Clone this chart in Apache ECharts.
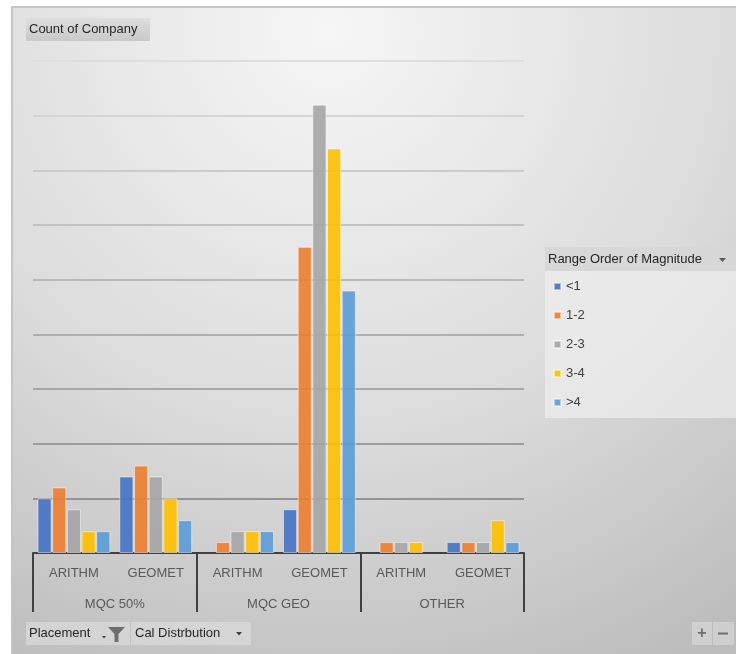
<!DOCTYPE html>
<html>
<head>
<meta charset="utf-8">
<script src="https://cdn.jsdelivr.net/npm/echarts@6/dist/echarts.min.js"></script>
<style>
html,body{margin:0;padding:0;background:#fff;}
#c{width:736px;height:654px;}
</style>
</head>
<body>
<div id="c"></div>
<script>
const subCategories = ['ARITHM','GEOMET','ARITHM','GEOMET','ARITHM','GEOMET'];
const groupCategories = ['MQC 50%','MQC GEO','OTHER'];
const seriesNames = ['<1','1-2','2-3','3-4','>4'];
const valsLt1 = [5,7,0,4,0,1];
const vals1to2 = [6,8,1,28,1,1];
const vals2to3 = [4,7,2,41,1,1];
const vals3to4 = [2,5,2,37,1,3];
const valsGt4 = [2,3,2,24,0,1];
const colors = ['#4472C4','#ED7D31','#A5A5A5','#FFC000','#5B9BD5'];
const yMax = 45, yInterval = 5;

const FONT = "'Liberation Sans','Arial',sans-serif";
const FS = 13;
const chart = echarts.init(document.getElementById('c'), null, {renderer:'canvas'});
const allVals = [valsLt1, vals1to2, vals2to3, vals3to4, valsGt4];

const series = seriesNames.map((n,i)=>({
  name:n, type:'bar', xAxisIndex:0,
  barCategoryGap:'11%', barGap:'4%',
  data: allVals[i].map(v => v === 0 ? '-' : v),
  itemStyle:{color:colors[i], opacity:0.9, borderColor:'rgba(255,255,255,0.55)', borderWidth:1},
  emphasis:{disabled:true}
}));

const gridLineGrad = new echarts.graphic.LinearGradient(0, 61, 0, 553, [
  {offset:0, color:'#dedede'}, {offset:1, color:'#8a8a8a'}
], true);

chart.setOption({
  animation:false,
  backgroundColor:'#ffffff',
  color:colors,
  grid:{left:33, right:212, top:61, bottom:101, containLabel:false},
  legend:{
    orient:'vertical', left:553, top:280, padding:0,
    itemWidth:7, itemHeight:7, itemGap:16, icon:'rect',
    data:seriesNames,
    textStyle:{color:'#404040', fontSize:FS, fontFamily:FONT},
    selectedMode:false
  },
  xAxis:[
    {type:'category', data:subCategories, position:'bottom',
     axisLine:{show:true, lineStyle:{color:'#404040', width:2}},
     axisTick:{show:false},
     axisLabel:{color:'#595959', fontSize:FS, fontFamily:FONT, margin:14, interval:0},
     splitLine:{show:false}},
    {type:'category', data:groupCategories, position:'bottom',
     axisLine:{show:false},
     axisTick:{show:true, length:59, interval:0, lineStyle:{color:'#404040', width:2}},
     axisLabel:{color:'#595959', fontSize:FS, fontFamily:FONT, margin:45, interval:0},
     splitLine:{show:false}}
  ],
  yAxis:{type:'value', min:0, max:yMax, interval:yInterval,
    axisLabel:{show:false}, axisLine:{show:false}, axisTick:{show:false},
    splitLine:{show:true, lineStyle:{color:gridLineGrad, width:2}}},
  series:series,
  graphic:[
    {type:'rect', z:-100, silent:true, shape:{x:12, y:7, width:730, height:660},
     style:{fill:new echarts.graphic.RadialGradient(330, 30, 720, [
       {offset:0, color:'#f6f6f6'}, {offset:0.55, color:'#dcdcdc'}, {offset:1, color:'#bcbcbc'}], true),
       stroke:'#c4c4c4', lineWidth:2}},
    // Count of Company button
    {type:'rect', z:-50, silent:true, shape:{x:26, y:18, width:124, height:23},
     style:{fill:new echarts.graphic.LinearGradient(0,0,0,1,[{offset:0,color:'#dedede'},{offset:1,color:'#c9c9c9'}])}},
    {type:'text', z:-40, silent:true, x:29, y:29.5,
     style:{text:'Count of Company', fill:'#262626', fontSize:FS, fontFamily:FONT, verticalAlign:'middle'}},
    // legend box
    {type:'rect', z:-50, silent:true, shape:{x:545, y:247, width:191, height:171},
     style:{fill:'rgba(238,238,238,0.7)'}},
    {type:'rect', z:-49, silent:true, shape:{x:545, y:247, width:191, height:24},
     style:{fill:'rgba(210,210,210,0.75)'}},
    {type:'text', z:-40, silent:true, x:548, y:259.5,
     style:{text:'Range Order of Magnitude', fill:'#262626', fontSize:FS, fontFamily:FONT, verticalAlign:'middle'}},
    {type:'polygon', z:-40, silent:true, shape:{points:[[719,258],[726,258],[722.5,262]]}, style:{fill:'#595959'}},
    // bottom buttons
    {type:'rect', z:-50, silent:true, shape:{x:26, y:622, width:104, height:23},
     style:{fill:'rgba(225,225,225,0.55)'}},
    {type:'text', z:-40, silent:true, x:29, y:633.5,
     style:{text:'Placement', fill:'#262626', fontSize:FS, fontFamily:FONT, verticalAlign:'middle'}},
    {type:'polygon', z:-40, silent:true, shape:{points:[[102,636],[106,636],[104,638.5]]}, style:{fill:'#404040'}},
    {type:'polygon', z:-40, silent:true,
     shape:{points:[[108,627],[125,627],[118.5,634],[118.5,642],[114.5,642],[114.5,634]]}, style:{fill:'#6e6e6e'}},
    {type:'rect', z:-50, silent:true, shape:{x:131, y:622, width:120, height:23},
     style:{fill:'rgba(225,225,225,0.55)'}},
    {type:'text', z:-40, silent:true, x:135, y:633.5,
     style:{text:'Cal Distrbution', fill:'#262626', fontSize:FS, fontFamily:FONT, verticalAlign:'middle'}},
    {type:'polygon', z:-40, silent:true, shape:{points:[[236,632],[242,632],[239,635.5]]}, style:{fill:'#404040'}},
    {type:'rect', z:-50, silent:true, shape:{x:692, y:622, width:20, height:23},
     style:{fill:'rgba(225,225,225,0.5)'}},
    {type:'rect', z:-50, silent:true, shape:{x:713, y:622, width:21, height:23},
     style:{fill:'rgba(225,225,225,0.5)'}},
    {type:'text', z:-40, silent:true, x:702, y:633.5,
     style:{text:'+', fill:'#707070', fontSize:16, fontFamily:FONT, align:'center', verticalAlign:'middle', fontWeight:'bold'}},
    {type:'rect', z:-40, silent:true, shape:{x:718, y:632.5, width:10, height:2}, style:{fill:'#707070'}}
  ]
});
</script>
</body>
</html>
